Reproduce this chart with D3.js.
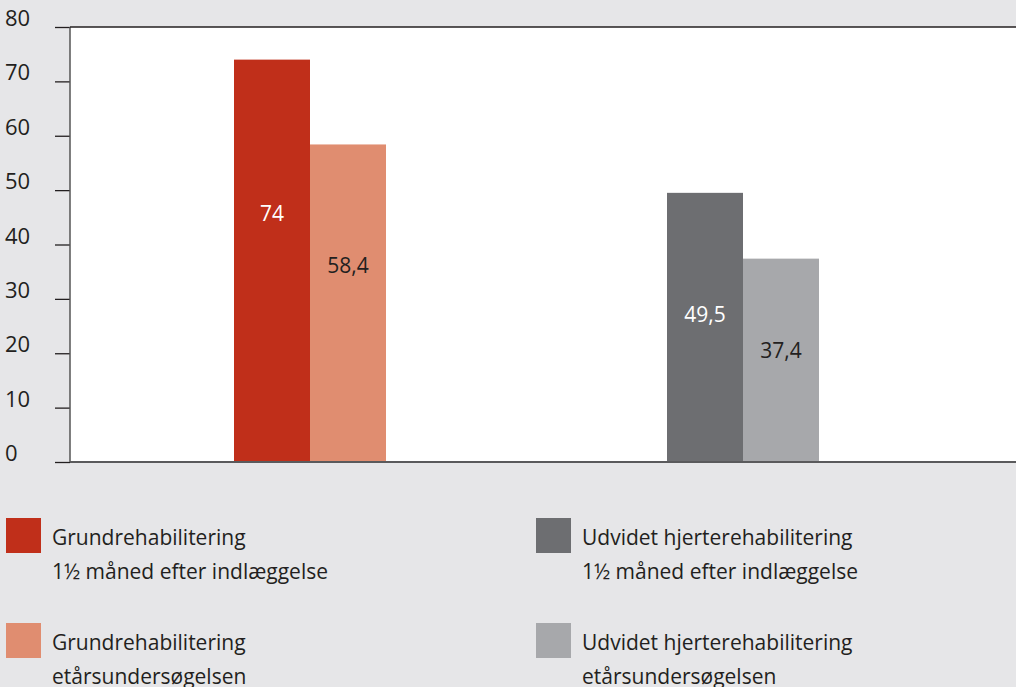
<!DOCTYPE html>
<html>
<head>
<meta charset="utf-8">
<script src="https://cdn.jsdelivr.net/npm/d3@7"></script>
<style>
body { margin:0; background:#e6e6e8; }
svg { display:block; font-family:"Open Sans", sans-serif; }
</style>
</head>
<body>
<svg id="graph"></svg>
<script>
// data
var groups = ["Grundrehabilitering", "Udvidet hjerterehabilitering"]
var series = ["1½ måned efter indlæggelse", "etårsundersøgelsen"]
var values = [[74, 58.4], [49.5, 37.4]]
var valueLabels = [["74", "58,4"], ["49,5", "37,4"]]
var yTicks = [0, 10, 20, 30, 40, 50, 60, 70, 80]
var colors = [["#c02f1a", "#e08d70"], ["#6d6e71", "#a7a8ab"]]
var labelColors = [["#ffffff", "#231f20"], ["#ffffff", "#231f20"]]

var screen = {width:1016, height:687}
var margins = {left:70, right:0, top:27, bottom:225}
var graph = {
  width: screen.width - margins.left - margins.right,
  height: screen.height - margins.top - margins.bottom
}

var svg = d3.select("#graph")
  .attr("width", screen.width)
  .attr("height", screen.height)

var yScale = d3.scaleLinear()
  .domain([0, 80])
  .range([margins.top + graph.height, margins.top])

var xGroup = d3.scalePoint()
  .domain(groups)
  .range([310, 743])

var xSub = d3.scaleBand()
  .domain(series)
  .range([-76, 76])

// plot area
svg.append("rect")
  .attr("x", margins.left)
  .attr("y", margins.top)
  .attr("width", graph.width)
  .attr("height", graph.height)
  .attr("fill", "white")

// bars
var barGroups = svg.selectAll("g.bars")
  .data(groups)
  .enter()
  .append("g")
  .classed("bars", true)
  .attr("transform", function(d) { return "translate(" + xGroup(d) + ",0)" })

barGroups.each(function(g, gi) {
  var sel = d3.select(this)
  sel.selectAll("rect")
    .data(values[gi])
    .enter()
    .append("rect")
    .attr("x", function(d, i) { return xSub(series[i]) })
    .attr("width", xSub.bandwidth())
    .attr("y", function(d) { return yScale(d) })
    .attr("height", function(d) { return yScale(0) - yScale(d) })
    .attr("fill", function(d, i) { return colors[gi][i] })

  var frac = gi == 0 ? 0.38 : 0.45
  sel.selectAll("text")
    .data(values[gi])
    .enter()
    .append("text")
    .text(function(d, i) { return valueLabels[gi][i] })
    .attr("x", function(d, i) { return xSub(series[i]) + xSub.bandwidth() / 2 })
    .attr("y", function(d) { return yScale(d) + (yScale(0) - yScale(d)) * frac + 8 })
    .attr("text-anchor", "middle")
    .attr("font-size", 21)
    .attr("fill", function(d, i) { return labelColors[gi][i] })
})

// axes
var yAxis = d3.axisLeft(yScale)
  .tickValues(yTicks)
  .tickSize(15)
  .tickFormat(function(d) { return "" })

var axisG = svg.append("g")
  .attr("transform", "translate(" + margins.left + ",0)")
  .call(yAxis)
axisG.select(".domain").remove()
axisG.selectAll(".tick line").attr("stroke", "#231f20").attr("stroke-width", 1.3)

svg.selectAll("text.ylabel")
  .data(yTicks)
  .enter()
  .append("text")
  .classed("ylabel", true)
  .text(function(d) { return d })
  .attr("x", 5)
  .attr("y", function(d) { return yScale(d) - 1 })
  .attr("font-size", 22)
  .attr("fill", "#231f20")

svg.append("line")
  .attr("x1", margins.left).attr("x2", margins.left)
  .attr("y1", margins.top).attr("y2", yScale(0))
  .attr("stroke", "#555").attr("stroke-width", 1.5)

svg.append("line")
  .attr("x1", margins.left).attr("x2", screen.width)
  .attr("y1", margins.top).attr("y2", margins.top)
  .attr("stroke", "#231f20").attr("stroke-width", 1.5)

svg.append("line")
  .attr("x1", margins.left).attr("x2", screen.width)
  .attr("y1", yScale(0)).attr("y2", yScale(0))
  .attr("stroke", "#5a5a5c").attr("stroke-width", 2)

// legend
var legendX = [6, 536]
var legendY = [518, 623]
groups.forEach(function(g, gi) {
  series.forEach(function(s, si) {
    var lg = svg.append("g")
      .attr("transform", "translate(" + legendX[gi] + "," + legendY[si] + ")")
    lg.append("rect")
      .attr("width", 35)
      .attr("height", 35)
      .attr("fill", colors[gi][si])
    var t = lg.append("text")
      .attr("font-size", 21)
      .attr("fill", "#231f20")
    t.append("tspan").attr("x", 46).attr("y", 27).text(g)
    t.append("tspan").attr("x", 46).attr("y", 61).text(s)
  })
})
</script>
</body>
</html>
